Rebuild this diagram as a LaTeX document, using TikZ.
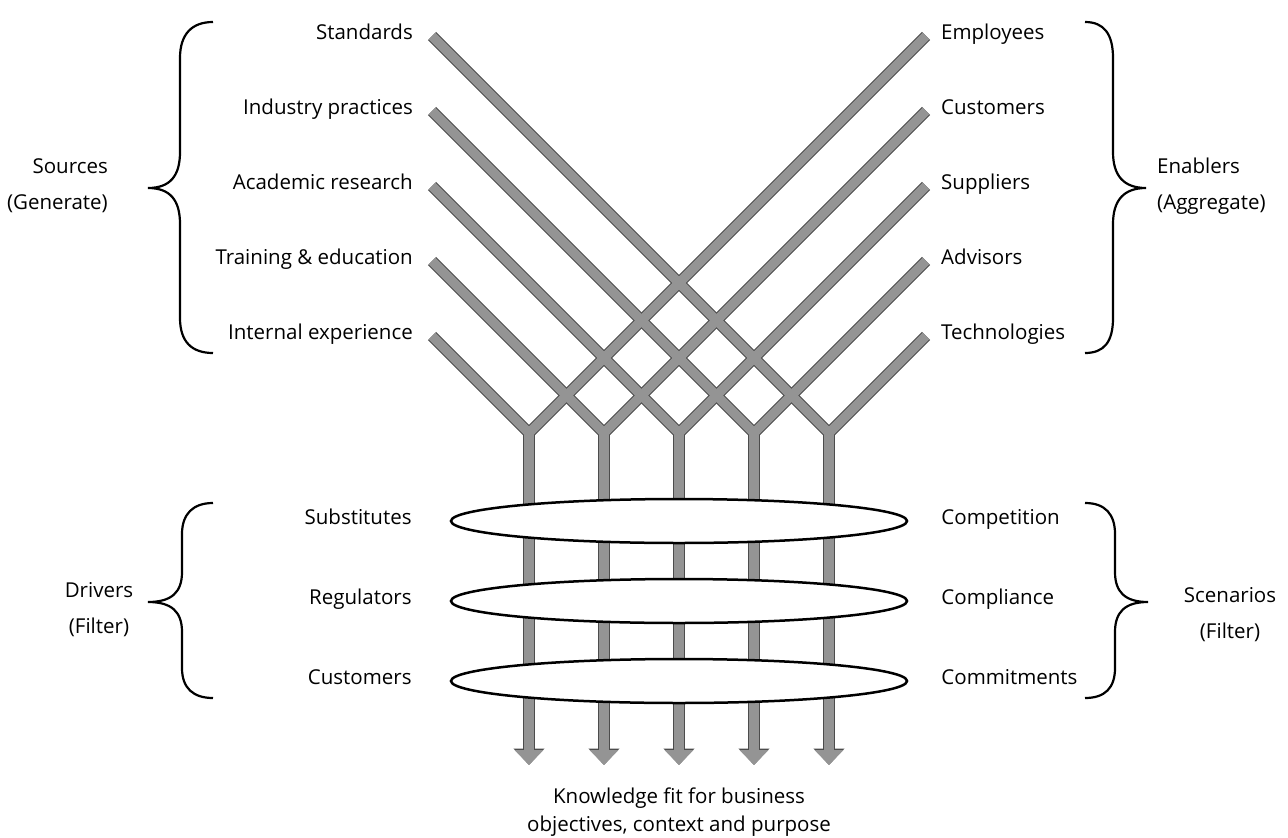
\documentclass[tikz,border=0pt]{standalone}
\usepackage{fontspec}
\setmainfont{Open Sans}
\usetikzlibrary{arrows.meta,positioning,shapes.geometric}

\definecolor{barfill}{gray}{0.58}
\definecolor{baredge}{gray}{0.3}

\begin{document}
\begin{tikzpicture}[x=1pt, y=-1pt,
    lab/.style={font=\fontsize{20.5}{24}\selectfont, inner sep=0pt, text height=0.73em, text depth=0pt},
    side/.style={font=\fontsize{20.5}{36}\selectfont, inner sep=0pt},
    ring/.style={ellipse, draw, fill=white, line width=2.5pt, minimum width=456pt, minimum height=44pt, inner sep=0pt},
    curly/.style={line width=2.2pt}]
\useasboundingbox (0,0) rectangle (1288,838);

% bar ends and junctions
\foreach \i in {1,...,5}{
  \coordinate (l\i) at (432,{36+75*(\i-1)});
  \coordinate (r\i) at (926,{36+75*(\i-1)});
  \coordinate (j\i) at ({529+75*(\i-1)},433);
  \coordinate (e\i) at ({529+75*(\i-1)},765);
}

% the bars, edge first then fill
\foreach \w/\c/\aw/\al in {11.5/baredge/30/16.5, 9.5/barfill/28/15}{
  \foreach \k in {1,...,5}{
    \pgfmathtruncatemacro\m{6-\k}
    \draw[line width=\w pt, \c, line join=miter] (l\m) -- (j\k) -- (r\k);
    \draw[line width=\w pt, \c, -{Triangle[width=\aw pt, length=\al pt]}] (j\k) -- (e\k);
  }
}

% filters
\node[ring] (f1) at (679,521) {};
\node[ring] (f2) at (679,601) {};
\node[ring] (f3) at (679,681) {};

% sources
\node[lab, left=19pt of l1] (std) {Standards};
\node[lab, left=19pt of l2] (ind) {Industry practices};
\node[lab, left=19pt of l3] (aca) {Academic research};
\node[lab, left=19pt of l4] (trn) {Training \& education};
\node[lab, left=19pt of l5] (inx) {Internal experience};

% enablers
\node[lab, right=15pt of r1] (emp) {Employees};
\node[lab, right=15pt of r2] (cus) {Customers};
\node[lab, right=15pt of r3] (sup) {Suppliers};
\node[lab, right=15pt of r4] (adv) {Advisors};
\node[lab, right=15pt of r5] (tec) {Technologies};

% drivers and scenarios
\node[lab, left=38pt of f1] (sub) {Substitutes};
\node[lab, left=38pt of f2] (reg) {Regulators};
\node[lab, left=38pt of f3] (cst) {Customers};
\node[lab, right=33pt of f1] (cmp) {Competition};
\node[lab, right=33pt of f2] (cpl) {Compliance};
\node[lab, right=33pt of f3] (cmt) {Commitments};

% braces
\draw[curly] (213,22) .. controls (192,22) and (180,34) .. (180,58) -- (180,152)
  .. controls (180,176) and (170,188) .. (148,188)
  .. controls (170,188) and (180,200) .. (180,224) -- (180,318)
  .. controls (180,342) and (192,353) .. (213,353);
\draw[curly] (1085,22) .. controls (1104,22) and (1113,34) .. (1113,58) -- (1113,152)
  .. controls (1113,176) and (1124,188) .. (1146,188)
  .. controls (1124,188) and (1113,200) .. (1113,224) -- (1113,318)
  .. controls (1113,342) and (1104,353) .. (1085,353);
\draw[curly] (213,503) .. controls (193,503) and (182,514) .. (182,534) -- (182,572)
  .. controls (182,592) and (172,602) .. (148,602)
  .. controls (172,602) and (182,612) .. (182,632) -- (182,668)
  .. controls (182,688) and (193,698) .. (213,698);
\draw[curly] (1085,503) .. controls (1105,503) and (1115,514) .. (1115,534) -- (1115,572)
  .. controls (1115,592) and (1125,602) .. (1148,602)
  .. controls (1125,602) and (1115,612) .. (1115,632) -- (1115,668)
  .. controls (1115,688) and (1105,698) .. (1085,698);

\node[side, align=right, anchor=east] (src) at (108,186) {Sources\\(Generate)};
\node[side, align=left, anchor=west] (enb) at (1157,186) {Enablers\\(Aggregate)};
\node[side, align=center] (drv) at (99,610) {Drivers\\(Filter)};
\node[side, align=center] (scn) at (1230,615) {Scenarios\\(Filter)};

\node[font=\fontsize{20.5}{28}\selectfont, align=center, inner sep=0pt] (fit) at (679,812)
  {Knowledge fit for business\\objectives, context and purpose};
\end{tikzpicture}
\end{document}
